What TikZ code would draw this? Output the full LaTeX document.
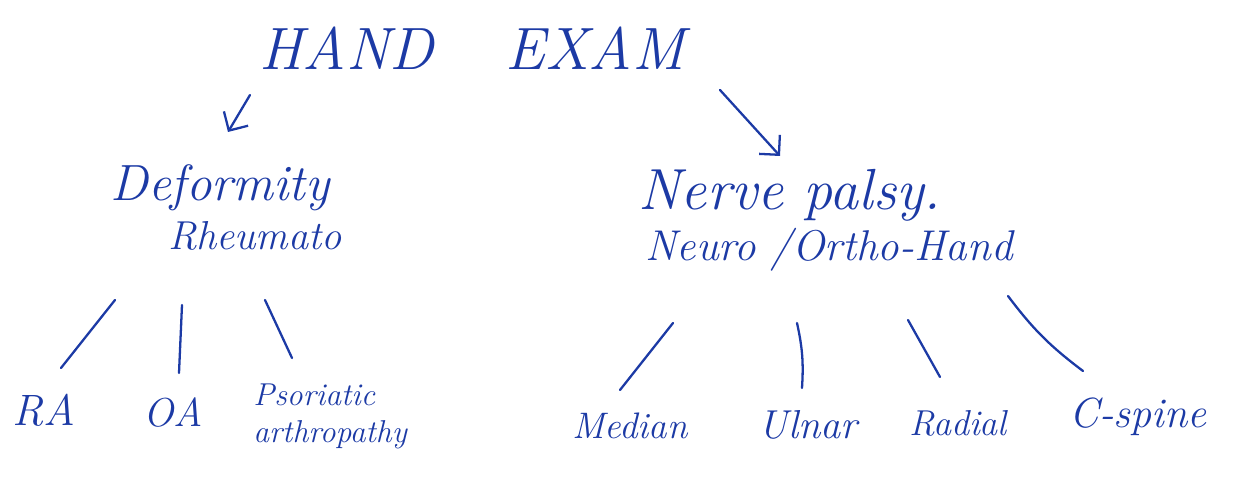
\documentclass[tikz,border=0pt]{standalone}
\usetikzlibrary{arrows.meta}
\definecolor{ink}{RGB}{28,58,165}

\begin{document}
\begin{tikzpicture}[x=0.02cm, y=-0.02cm,
		txt/.style={inner sep=0pt, text=ink, anchor=base},
		stroke/.style={draw=ink, line width=1.3pt, line cap=round},
		arr/.style={stroke, -{Straight Barb[length=8pt, width=16pt]}}]
		\useasboundingbox (0,0) rectangle (1260,486);

		\node[txt, font=\itshape\fontsize{34}{40}\selectfont] (exam) at (472,70) {HAND\hspace{1.2em}EXAM};

		\node[txt, font=\itshape\fontsize{29}{34}\selectfont] (deform) at (220,200) {Deformity};
		\node[txt, font=\itshape\fontsize{23}{27}\selectfont] (rheum) at (255,249) {Rheumato};
		\node[txt, font=\itshape\fontsize{33}{38}\selectfont] (nerve) at (790,210) {Nerve palsy.};
		\node[txt, font=\itshape\fontsize{24.5}{28}\selectfont] (neuro) at (829,260) {Neuro /Ortho-Hand};

		\node[txt, font=\itshape\fontsize{25}{28}\selectfont] (ra) at (44,425) {RA};
		\node[txt, font=\itshape\fontsize{23}{28}\selectfont] (oa) at (173,426) {OA};
		\node[txt, anchor=north west, align=left, font=\itshape\fontsize{18}{21}\selectfont] (psor) at (253,384) {Psoriatic\\arthropathy};
		\node[txt, font=\itshape\fontsize{21}{24}\selectfont] (median) at (630,438) {Median};
		\node[txt, font=\itshape\fontsize{23}{26}\selectfont] (ulnar) at (808,438) {Ulnar};
		\node[txt, font=\itshape\fontsize{20.5}{24}\selectfont] (radial) at (958,435) {Radial};
		\node[txt, font=\itshape\fontsize{24}{28}\selectfont] (cspine) at (1138,427) {C-spine};

		% arrows from the title
		\coordinate (a1) at (250,95);
		\coordinate (a2) at (720,90);
		\draw[arr] (a1) -- ([shift={(8,-68)}]deform.base);
		\draw[arr] (a2) -- ([shift={(-10,-54)}]nerve.base);

		% strokes down to the sub-items
		\coordinate (s1) at (115,300);
		\coordinate (s2) at (182,305);
		\coordinate (s3) at (265,300);
		\coordinate (s4) at (673,323);
		\coordinate (s5) at (797,323);
		\coordinate (s6) at (908,320);
		\coordinate (s7) at (1008,296);
		\draw[stroke] (s1) -- ([shift={(17,-57)}]ra.base);
		\draw[stroke] (s2) -- ([shift={(6,-53)}]oa.base);
		\draw[stroke] (s3) -- ([shift={(39,-26)}]psor.north west);
		\draw[stroke] (s4) -- ([shift={(-10,-48)}]median.base);
		\draw[stroke] (s5) to[bend left=8] ([shift={(-6,-50)}]ulnar.base);
		\draw[stroke] (s6) -- ([shift={(-18,-58)}]radial.base);
		\draw[stroke] (s7) to[bend right=8] ([shift={(-55,-56)}]cspine.base);
	\end{tikzpicture}
\end{document}
